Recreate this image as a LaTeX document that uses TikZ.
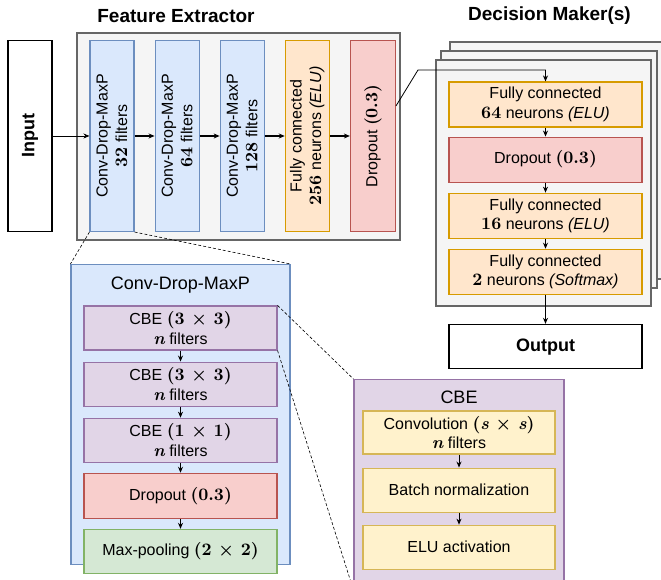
\documentclass[tikz,border=0pt]{standalone}
\usepackage{fontspec}
\setmainfont{Liberation Sans}
\newfontfamily\lmfont{lmroman10}[Extension=.otf, UprightFont=*-regular,
	BoldFont=*-bold, ItalicFont=*-italic, BoldItalicFont=*-bolditalic]
\usetikzlibrary{positioning,arrows.meta}

\definecolor{convfill}{HTML}{DAE8FC}
\definecolor{convline}{HTML}{6C8EBF}
\definecolor{fcfill}{HTML}{FFE6CC}
\definecolor{fcline}{HTML}{D79B00}
\definecolor{dropfill}{HTML}{F8CECC}
\definecolor{dropline}{HTML}{B85450}
\definecolor{cbefill}{HTML}{E1D5E7}
\definecolor{cbeline}{HTML}{9673A6}
\definecolor{poolfill}{HTML}{D5E8D4}
\definecolor{poolline}{HTML}{82B366}
\definecolor{opfill}{HTML}{FFF2CC}
\definecolor{opline}{HTML}{D6B656}
\definecolor{grpfill}{HTML}{F5F5F5}
\definecolor{grpline}{HTML}{666666}

% bold serif numbers and variables, a little larger than the sans text
\newcommand{\bnum}[1]{{\lmfont\bfseries\fontsize{17.5}{19.5}\selectfont #1}}
\newcommand{\bvar}[1]{{\itshape #1}}

\tikzset{
	blk/.style={draw, line width=1.1pt, inner sep=0pt, align=center,
		font=\fontsize{16}{19.5}\selectfont},
	convblk/.style={blk, fill=convfill, draw=convline, minimum width=44pt, minimum height=191pt},
	fcblk/.style={blk, fill=fcfill, draw=fcline},
	dropblk/.style={blk, fill=dropfill, draw=dropline},
	cbeblk/.style={blk, fill=cbefill, draw=cbeline, minimum width=193pt, minimum height=44pt},
	poolblk/.style={blk, fill=poolfill, draw=poolline, minimum width=193pt, minimum height=44pt},
	opblk/.style={blk, fill=opfill, draw=opline, minimum width=192pt, minimum height=44pt},
	dmblk/.style={minimum width=193pt, minimum height=45pt},
	grp/.style={draw=grpline, fill=grpfill, line width=1.5pt, inner sep=0pt},
	io/.style={draw, line width=1.5pt, inner sep=0pt, font=\fontsize{18}{20}\bfseries},
	vlab/.style={rotate=90, align=center, font=\fontsize{16}{19.5}\selectfont},
	title/.style={font=\fontsize{19}{21}\bfseries},
	flow/.style={-{Stealth[length=6pt,width=5pt]}, line width=0.8pt},
	bigflow/.style={-{Stealth[length=6pt,width=5pt]}, line width=1.6pt},
	zoomline/.style={dashed, dash pattern=on 3pt off 2pt, line width=0.6pt},
}

\begin{document}
\begin{tikzpicture}[x=1pt, y=1pt]
	\useasboundingbox (0,0) rectangle (661,580);

	% feature extractor
	\node[title] (fetitle) at (176,564) {Feature Extractor};
	\node[grp, minimum width=323pt, minimum height=207pt] (fe) at (238.5,443.5) {};
	\node[io, minimum width=44pt, minimum height=191pt] (in) at (30,444) {};
	\node[rotate=90, io, draw=none] (intxt) at (in) {Input};

	\node[convblk] (b1) at (112,444) {};
	\node[convblk, right=20pt of b1] (b2) {};
	\node[convblk, right=20pt of b2] (b3) {};
	\node[fcblk, minimum width=44pt, minimum height=191pt, right=20pt of b3] (fc1) {};
	\node[dropblk, minimum width=45pt, minimum height=191pt, right=20pt of fc1] (dr1) {};
	\node[vlab] (b1t) at (b1) {Conv-Drop-MaxP\\\bnum{32} filters};
	\node[vlab] (b2t) at (b2) {Conv-Drop-MaxP\\\bnum{64} filters};
	\node[vlab] (b3t) at (b3) {Conv-Drop-MaxP\\\bnum{128} filters};
	\node[vlab] (fc1t) at (fc1) {Fully connected\\\bnum{256} neurons \textit{(ELU)}};
	\node[vlab] (dr1t) at (dr1) {Dropout \bnum{(0.3)}};

	\draw[flow] (in.east) -- (b1.west);
	\draw[bigflow] (b1) -- (b2);
	\draw[bigflow] (b2) -- (b3);
	\draw[bigflow] (b3) -- (fc1);
	\draw[bigflow] (fc1) -- (dr1);

	% decision makers, stacked copies
	\node[title] (dmtitle) at (549.5,564) {Decision Maker(s)};
	\node[grp, minimum width=220pt, minimum height=237pt] (dmback) at (560,419.5) {};
	\node[grp, minimum width=216pt, minimum height=237pt] (dmmid) at (549,410.5) {};
	\node[grp, minimum width=215pt, minimum height=246pt] (dmfront) at (543.5,397) {};

	\node[fcblk, dmblk] (fc2) at (545.5,475.5) {Fully connected\\\bnum{64} neurons \textit{(ELU)}};
	\node[dropblk, dmblk, below=9pt of fc2] (dr2) {Dropout \bnum{(0.3)}};
	\node[fcblk, dmblk, below=10pt of dr2] (fc3) {Fully connected\\\bnum{16} neurons \textit{(ELU)}};
	\node[fcblk, dmblk, below=10pt of fc3] (fc4) {Fully connected\\\bnum{2} neurons \textit{(Softmax)}};
	\node[io, minimum width=193pt, minimum height=44pt, below=29pt of fc4] (out) {Output};

	\coordinate (bend) at (418,510);
	\draw[flow] ([yshift=30pt]dr1.east) -- (bend) -| (fc2.north);
	\draw[flow] (fc2) -- (dr2);
	\draw[flow] (dr2) -- (fc3);
	\draw[flow] (fc3) -- (fc4);
	\draw[flow, line width=1.1pt] (fc4) -- (out);

	% inside one Conv-Drop-MaxP block
	\node[blk, fill=convfill, draw=convline, minimum width=219pt, minimum height=300pt,
		anchor=north] (cdm) at (180.5,316) {};
	\node[font=\fontsize{18}{20}\selectfont] (cdmtitle) at (180.5,295) {Conv-Drop-MaxP};
	\node[cbeblk] (c1) at (180.5,252) {CBE \bnum{(3 × 3)}\\\bnum{\bvar{n}} filters};
	\node[cbeblk, below=11pt of c1] (c2) {CBE \bnum{(3 × 3)}\\\bnum{\bvar{n}} filters};
	\node[cbeblk, below=11pt of c2] (c3) {CBE \bnum{(1 × 1)}\\\bnum{\bvar{n}} filters};
	\node[dropblk, minimum width=193pt, minimum height=45pt, below=10pt of c3] (dr3) {Dropout \bnum{(0.3)}};
	\node[poolblk, below=10pt of dr3] (pool) {Max-pooling \bnum{(2 × 2)}};

	\draw[flow] (c1) -- (c2);
	\draw[flow] (c2) -- (c3);
	\draw[flow] (c3) -- (dr3);
	\draw[flow, line width=1.1pt] (dr3) -- (pool);

	% inside one CBE block
	\node[blk, fill=cbefill, draw=cbeline, minimum width=210pt, minimum height=210pt,
		anchor=north] (cbe) at (459,201) {};
	\node[font=\fontsize{18}{20}\selectfont] (cbetitle) at (459,183) {CBE};
	\node[opblk, minimum height=43pt] (conv) at (459,147.5) {Convolution \bnum{(\bvar{s} × \bvar{s})}\\\bnum{\bvar{n}} filters};
	\node[opblk, below=13pt of conv] (bn) {Batch normalization};
	\node[opblk, below=12pt of bn] (elu) {ELU activation};

	\draw[flow] (conv) -- (bn);
	\draw[flow] (bn) -- (elu);

	% zoom-in guides
	\draw[zoomline] (b1.south west) -- (cdm.north west);
	\draw[zoomline] (b1.south east) -- (cdm.north east);
	\draw[zoomline] (c1.north east) -- (cbe.north west);
	\draw[zoomline] (c1.south east) -- (cbe.south west);
\end{tikzpicture}
\end{document}
